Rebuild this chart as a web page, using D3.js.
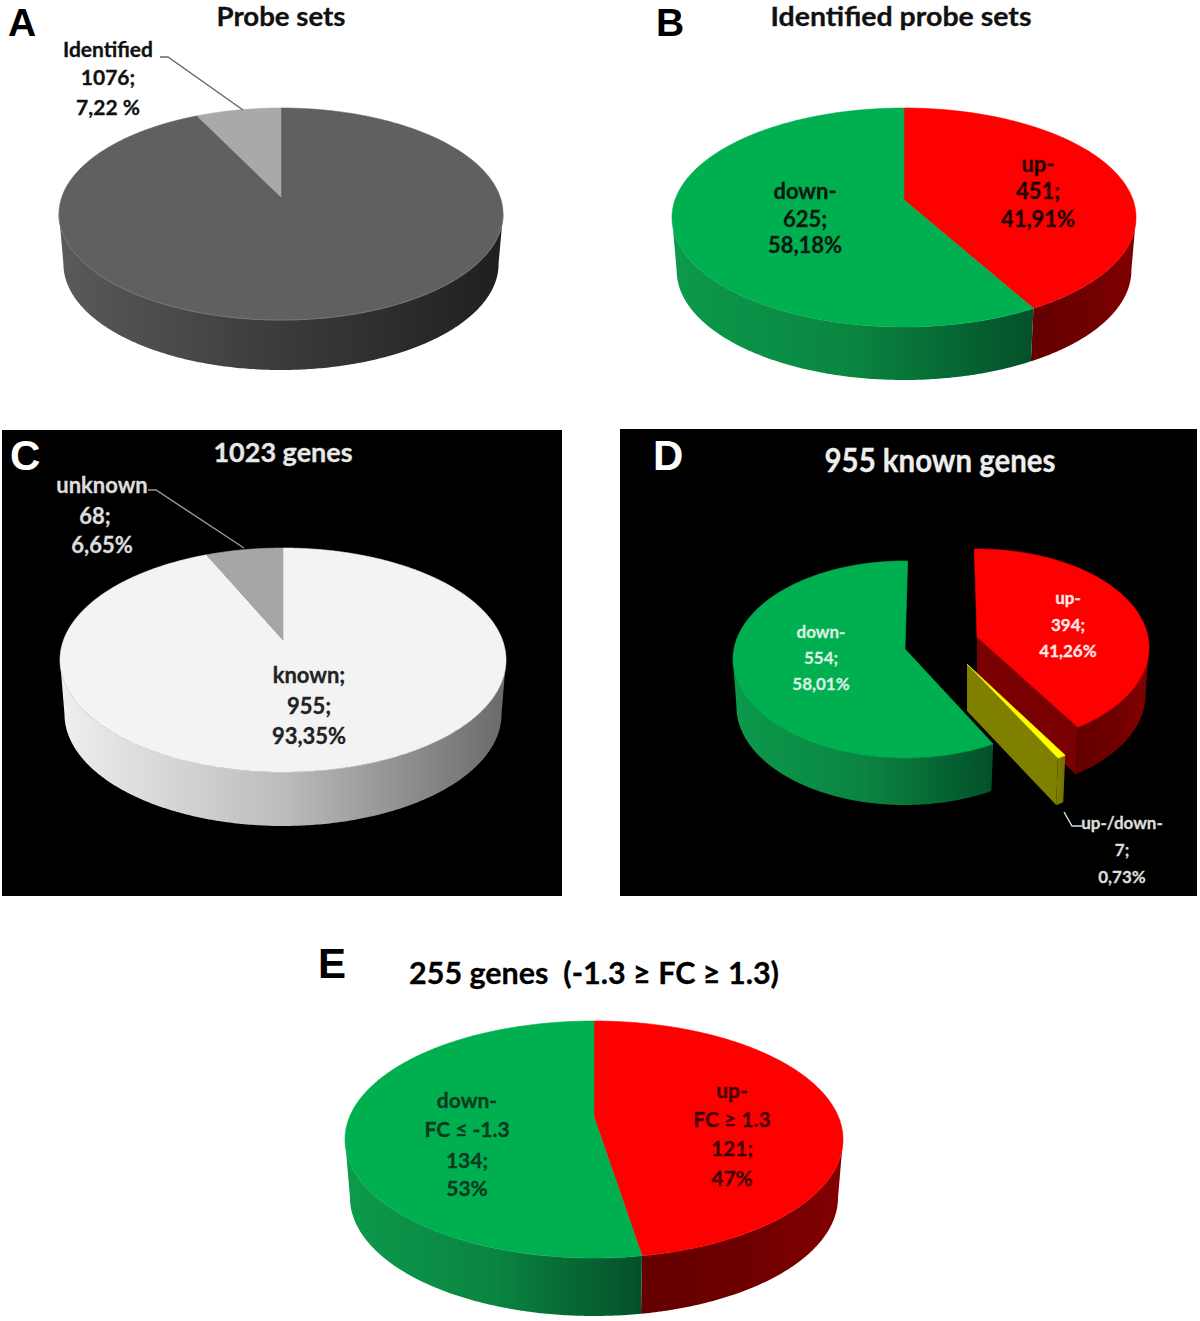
<!DOCTYPE html>
<html lang="en">

<head>
  <meta charset="UTF-8">
  <title>Pie charts of probe sets and genes</title>
  <script src="https://cdn.jsdelivr.net/npm/d3@7"></script>
  <style>
    body { margin: 0; background: #fff; }
    svg { display: block; }
    text { font-family: Lato, "Open Sans", sans-serif; font-weight: 700; text-anchor: middle; white-space: pre; }
    .letter { font-family: "Liberation Sans", Arial, sans-serif; text-anchor: start; font-size: 42px; }
    .letter.top { font-size: 39px; }
  </style>
</head>

<body>
</body>

</html>
<script>
  // data
  const aNames = ["other", "Identified"];
  const aValues = [13827, 1076];
  const bNames = ["up-", "down-"];
  const bValues = [451, 625];
  const cNames = ["known", "unknown"];
  const cValues = [955, 68];
  const dNames = ["up-", "up-/down-", "down-"];
  const dValues = [394, 7, 554];
  const eNames = ["up-", "down-"];
  const eValues = [121, 134];

  const titles = ["Probe sets", "Identified probe sets", "1023 genes", "955 known genes", "255 genes  (-1.3 \u2265 FC \u2265 1.3)"];
  const letters = ["A", "B", "C", "D", "E"];

  const aLabel = ["Identified", "1076;", "7,22 %"];
  const bDown = ["down-", "625;", "58,18%"];
  const bUp = ["up-", "451;", "41,91%"];
  const cUnknown = ["unknown", "68;", "6,65%"];
  const cKnown = ["known;", "955;", "93,35%"];
  const dDown = ["down-", "554;", "58,01%"];
  const dUp = ["up-", "394;", "41,26%"];
  const dMixed = ["up-/down-", "7;", "0,73%"];
  const eDown = ["down-", "FC \u2264 -1.3", "134;", "53%"];
  const eUp = ["up-", "FC \u2265 1.3", "121;", "47%"];

  // wall gradients, left to right
  const walls = {
    gray: ["#5a5a5a", "#3b3b3b", "#1f1f1f"],
    white: ["#efefef", "#bcbcbc", "#6a6a6a"],
    green: ["#0c9a4c", "#0a8540", "#03502a"],
    red: ["#640000", "#6e0000", "#820000"],
    olive: ["#808000", "#7a7a00", "#6e6e00"]
  };

  const svg = d3.select("body").append("svg").attr("width", 1200).attr("height", 1321);
  const defs = svg.append("defs");

  Object.keys(walls).forEach(function (name) {
    let g = defs.append("linearGradient").attr("id", "wall-" + name);
    walls[name].forEach(function (c, i) {
      g.append("stop").attr("offset", i / 2).attr("stop-color", c);
    });
  });

  // black panels behind C and D
  svg.append("rect").attr("x", 2).attr("y", 430).attr("width", 560).attr("height", 466).attr("fill", "#000");
  svg.append("rect").attr("x", 620).attr("y", 429).attr("width", 577).attr("height", 467).attr("fill", "#000");

  const pieLayout = d3.pie().sort(null).value(function (d) { return d; });
  const line = d3.line();
  const taper = 0.98; // the bottom of a wall is a bit narrower than its top

  // the disc is tilted with perspective, so the centre sits above the middle of the ellipse
  function drawPie(o) {
    let back = o.apexY - o.top;
    let front = o.bottom - o.apexY;
    let k = (front - back) / (front + back);
    let c = back * (1 + k);
    let R = o.rx * Math.sqrt(1 - k * k);
    let sideStart = Math.acos(-k);
    let sideEnd = 2 * Math.PI - sideStart;
    let arcs = pieLayout(o.values);

    function apexOf(i) {
      return o.apexes ? o.apexes[i] : [o.cx, o.apexY];
    }
    function turn(i) {
      return o.turns ? o.turns[i] * Math.PI / 180 : 0;
    }
    function point(i, a) {
      let w = 1 + k * Math.cos(a);
      let p = apexOf(i);
      return [p[0] + R * Math.sin(a) / w, p[1] - c * Math.cos(a) / w];
    }
    function arcPoints(i, s, e) {
      return d3.range(s, e, 0.01).concat([e]).map(function (a) { return point(i, a); });
    }

    let g = svg.append("g");

    // walls first
    arcs.forEach(function (d, i) {
      let s = Math.max(d.startAngle + turn(i), sideStart);
      let e = Math.min(d.endAngle + turn(i), sideEnd);
      if (e > s) {
        let px = apexOf(i)[0];
        let upper = arcPoints(i, s, e);
        let lower = upper.map(function (p) {
          return [px + (p[0] - px) * taper, p[1] + o.depth];
        }).reverse();
        g.append("path").attr("d", line(upper.concat(lower)) + "Z")
          .attr("fill", "url(#wall-" + o.walls[i] + ")");
      }
      // cut face of an exploded slice
      if (o.cuts && o.cuts.includes(i)) {
        let p = apexOf(i);
        let q = point(i, d.endAngle + turn(i));
        g.append("path")
          .attr("d", line([p, q, [p[0] + (q[0] - p[0]) * taper, q[1] + o.depth], [p[0], p[1] + o.depth]]) + "Z")
          .attr("fill", o.cutFill[i]);
      }
    });

    arcs.forEach(function (d, i) {
      let pts = [apexOf(i)].concat(arcPoints(i, d.startAngle + turn(i), d.endAngle + turn(i)));
      g.append("path").attr("d", line(pts) + "Z")
        .attr("fill", o.tops[i]).attr("stroke", o.tops[i]).attr("stroke-width", 0.6);
    });

    if (o.rim) {
      g.append("path").attr("d", line(arcPoints(0, sideStart, sideEnd)))
        .attr("fill", "none").attr("stroke", o.rim).attr("stroke-width", 1);
    }
  }

  function textBlock(x, ys, lines, size, color, width) {
    let t = svg.append("g").selectAll("text").data(lines).enter().append("text")
      .text(function (d) { return d; })
      .attr("x", function (d, i) { return Array.isArray(x) ? x[i] : x; })
      .attr("y", function (d, i) { return ys[i]; })
      .attr("font-size", size + "px")
      .attr("fill", color)
      .attr("stroke", color)
      .attr("stroke-width", 0.3);
    if (width) {
      t.attr("textLength", width).attr("lengthAdjust", "spacingAndGlyphs");
    }
  }

  drawPie({
    values: aValues, cx: 281, top: 108, apexY: 197, bottom: 320, rx: 222, depth: 50,
    tops: ["#606060", "#a9a9a9"], walls: ["gray", "gray"], rim: "#757575"
  });
  drawPie({
    values: bValues, cx: 904, top: 108, apexY: 200, bottom: 327, rx: 232, depth: 53,
    tops: ["#ff0000", "#00b050"], walls: ["red", "green"]
  });
  drawPie({
    values: cValues, cx: 283, top: 548, apexY: 640, bottom: 772, rx: 223, depth: 54,
    tops: ["#f3f3f3", "#a6a6a6"], walls: ["white", "white"]
  });
  drawPie({
    values: dValues, cx: 905, top: 561, apexY: 649, bottom: 758, rx: 172, depth: 47,
    apexes: [[977, 637], [967, 664], [905, 649]],
    turns: [-1, 0, 1],
    tops: ["#ff0000", "#ffff00", "#00b050"], walls: ["red", "olive", "green"],
    cuts: [0, 1], cutFill: ["#780000", "#7f7f00"]
  });
  drawPie({
    values: eValues, cx: 594, top: 1021, apexY: 1117, bottom: 1258, rx: 249, depth: 58,
    tops: ["#ff0000", "#00b050"], walls: ["red", "green"]
  });

  // leader lines
  svg.append("path").attr("d", line([[160, 57], [168, 57], [243, 110]]))
    .attr("fill", "none").attr("stroke", "#666").attr("stroke-width", 1.4);
  svg.append("path").attr("d", line([[148, 490], [156, 490], [244, 548]]))
    .attr("fill", "none").attr("stroke", "#999").attr("stroke-width", 1.4);
  svg.append("path").attr("d", line([[1064, 812], [1072, 826], [1082, 826]]))
    .attr("fill", "none").attr("stroke", "#ddd").attr("stroke-width", 1.4);

  // panel letters
  svg.append("text").attr("class", "letter top").attr("x", 8).attr("y", 35.5).attr("fill", "#000").text(letters[0]);
  svg.append("text").attr("class", "letter top").attr("x", 656).attr("y", 35.5).attr("fill", "#000").text(letters[1]);
  svg.append("text").attr("class", "letter").attr("x", 10).attr("y", 470).attr("fill", "#fff").text(letters[2]);
  svg.append("text").attr("class", "letter").attr("x", 653).attr("y", 470).attr("fill", "#fff").text(letters[3]);
  svg.append("text").attr("class", "letter").attr("x", 318).attr("y", 978).attr("fill", "#000").text(letters[4]);

  // titles
  textBlock(281, [26], [titles[0]], 26, "#111", 129);
  textBlock(901, [26], [titles[1]], 26, "#111", 261);
  textBlock(283, [462], [titles[2]], 27, "#e8e8e8");
  textBlock(940, [472], [titles[3]], 32, "#eee", 231);
  textBlock(594, [984], [titles[4]], 30.5, "#000");

  // slice labels
  textBlock(108, [57, 85, 115], aLabel, 21, "#111");
  textBlock(805, [199, 227, 253], bDown, 22, "#0a1a10");
  textBlock(1038, [172, 199, 227], bUp, 22, "#200");
  textBlock([102, 95, 102], [493, 524, 553], cUnknown, 22, "#ddd");
  textBlock(309, [683, 714, 744], cKnown, 22, "#222");
  textBlock(821, [638, 664, 690], dDown, 17, "#d8f0e0");
  textBlock(1068, [604, 631, 657], dUp, 17, "#ffe8e8");
  textBlock(1122, [829, 856, 883], dMixed, 17, "#ddd");
  textBlock(467, [1108, 1137, 1168, 1196], eDown, 21, "#0a3a20");
  textBlock(732, [1098, 1127, 1156, 1186], eUp, 21, "#400");
</script>
